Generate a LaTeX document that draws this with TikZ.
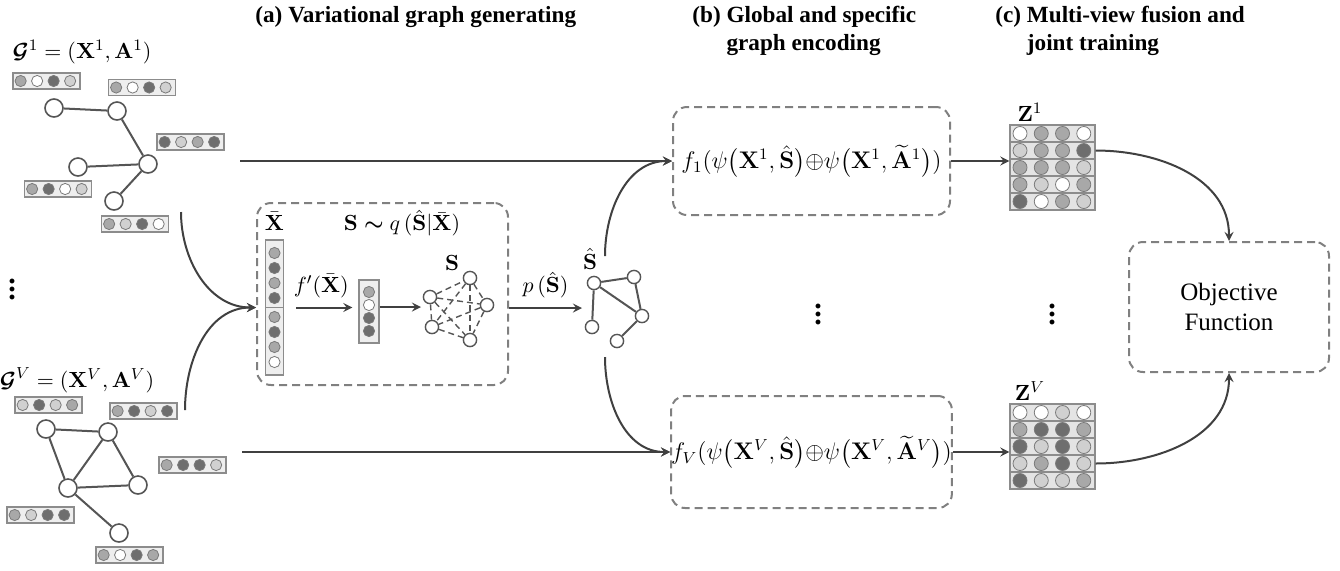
\documentclass[tikz,border=0pt]{standalone}
\usepackage[no-math]{fontspec}
\setmainfont{Liberation Serif}
\usepackage{amsmath,bm}
\usetikzlibrary{shapes,arrows,positioning}

\definecolor{edgegray}{HTML}{555555}
\definecolor{arrowgray}{HTML}{404040}
\definecolor{boxgray}{HTML}{808080}
\definecolor{bargray}{HTML}{8C8C8C}
\definecolor{barfill}{HTML}{EEEEEE}
\definecolor{rowfill}{HTML}{E4E4E4}
\definecolor{dotgray}{HTML}{7A7A7A}
\definecolor{dk}{HTML}{6E6E6E}
\definecolor{md}{HTML}{A8A8A8}
\definecolor{lt}{HTML}{D0D0D0}
\definecolor{wt}{HTML}{FFFFFF}

% feature bar: name, centre, four fills
\newcommand{\featbar}[3]{%
  \node[bar] (#1) at (#2) {};
  \foreach \col [count=\i] in {#3}
    \path (#1.west) ++(\i*16.5-8.25,0) node[dot,fill=\col] {};
}
% one row of an embedding matrix
\newcommand{\zrow}[3]{%
  \node[zbar] (#1) at (#2) {};
  \foreach \col [count=\i] in {#3}
    \path (#1.west) ++(\i*21.25-10.625,0) node[dot,minimum size=7pt,fill=\col] {};
}

\begin{document}
\begin{tikzpicture}[x=0.5pt,y=-0.5pt,>=stealth,font=\fontsize{11}{13}\selectfont]

    % Define node styles
    \tikzstyle{gnode} = [draw=edgegray, fill=white, circle, minimum size=9pt, inner sep=0pt, line width=0.8pt]
    \tikzstyle{snode} = [gnode, minimum size=6.6pt, line width=0.7pt]
    \tikzstyle{link} = [draw=edgegray, line width=1pt]
    \tikzstyle{dlink} = [draw=edgegray, line width=0.7pt, dash pattern=on 3pt off 2pt]
    \tikzstyle{bar} = [draw=bargray, fill=barfill, rectangle, minimum width=33.5pt, minimum height=8pt, inner sep=0pt, line width=0.6pt]
    \tikzstyle{zbar} = [bar, fill=rowfill, minimum width=42.5pt, minimum height=8.5pt]
    \tikzstyle{dot} = [draw=dotgray, circle, minimum size=5.6pt, inner sep=0pt, line width=0.4pt]
    \tikzstyle{dbox} = [draw=boxgray, rectangle, rounded corners=7pt, line width=1pt, dash pattern=on 4pt off 2.5pt, inner sep=0pt]
    \tikzstyle{flow} = [->, draw=arrowgray, line width=1pt]
    \tikzstyle{title} = [font=\fontsize{11.6}{14}\selectfont\bfseries, align=left, anchor=north west, inner sep=0pt]

    \useasboundingbox (0,0) rectangle (1340,570);

    % Titles
    \node[title] (ta) at (255,6) {(a) Variational graph generating};
    \node[title] (tb) at (692,6) {(b) Global and specific\\\hphantom{(b) }graph encoding};
    \node[title] (tc) at (995,6) {(c) Multi-view fusion and\\\hphantom{(c) }joint training};

    % First view
    \node (g1) at (82,52) {$\bm{\mathcal{G}}^1 = (\mathbf{X}^1, \mathbf{A}^1)$};
    \node[gnode] (a1) at (54,108) {};
    \node[gnode] (a2) at (117,111) {};
    \node[gnode] (a3) at (148,164) {};
    \node[gnode] (a4) at (78,167) {};
    \node[gnode] (a5) at (114,201) {};
    \draw[link] (a1) -- (a2) -- (a3) -- (a4);
    \draw[link] (a3) -- (a5);
    \featbar{fa1}{46.5,81}{md,wt,dk,lt}
    \featbar{fa2}{142,87.5}{md,wt,dk,lt}
    \featbar{fa3}{190.5,142}{dk,lt,md,dk}
    \featbar{fa4}{58,189}{md,dk,wt,lt}
    \featbar{fa5}{135,224}{md,lt,dk,wt}

    \node (dl) at (12,283) {\fontsize{15}{15}\selectfont$\bm{\vdots}$};

    % Last view
    \node (gV) at (77,380) {$\bm{\mathcal{G}}^V = (\mathbf{X}^V, \mathbf{A}^V)$};
    \node[gnode] (b1) at (46,429) {};
    \node[gnode] (b2) at (108,432) {};
    \node[gnode] (b3) at (68,488) {};
    \node[gnode] (b4) at (138,485) {};
    \node[gnode] (b5) at (119,533) {};
    \draw[link] (b1) -- (b2) -- (b3) -- (b1);
    \draw[link] (b2) -- (b4) -- (b3) -- (b5);
    \featbar{fb1}{48.5,405}{lt,dk,lt,md}
    \featbar{fb2}{143.5,411}{md,dk,lt,dk}
    \featbar{fb3}{192.5,465}{md,dk,dk,lt}
    \featbar{fb4}{40.5,515}{md,lt,dk,dk}
    \featbar{fb5}{129.5,555}{md,wt,dk,md}

    % Variational graph generating
    \node[dbox, minimum width=125.5pt, minimum height=91pt] (vg) at (382.5,294) {};
    \node[bar, minimum width=9pt, minimum height=67.5pt] (xbar) at (274.5,307.5) {};
    \draw[bargray, line width=0.6pt] (xbar.west) -- (xbar.east);
    \foreach \y/\col in {253/md,268/dk,283/md,298/dk,317/md,332/dk,347/md,362/wt}
        \node[dot, fill=\col] at (274.5,\y) {};
    \node[above=1pt of xbar] (xlab) {$\bar{\mathbf{X}}$};
    \node[bar, minimum width=10pt, minimum height=31.5pt] (hcol) at (369,311.5) {};
    \foreach \y/\col in {292/md,305/wt,318/dk,331/dk}
        \node[dot, fill=\col] at (369,\y) {};
    \node[snode] (s1) at (430,297) {};
    \node[snode] (s2) at (470,278) {};
    \node[snode] (s3) at (487,305) {};
    \node[snode] (s4) at (432,327) {};
    \node[snode] (s5) at (470,340) {};
    \foreach \a/\b in {s1/s2,s1/s3,s1/s4,s1/s5,s2/s3,s2/s4,s2/s5,s3/s4,s3/s5,s4/s5}
        \draw[dlink] (\a) -- (\b);
    \node (slab) at (452,263) {$\mathbf{S}$};
    \node (qlab) at (402,223) {$\mathbf{S}\bm{\sim} q\,(\hat{\mathbf{S}}|\bar{\mathbf{X}})$};
    \coordinate (sin) at (421,307);
    \draw[flow, shorten <=6pt, shorten >=3pt] (xbar.east) -- (xbar.east -| hcol.west) node[midway, above=1pt] {$f'(\bar{\mathbf{X}})$};
    \draw[flow] (hcol.east |- sin) -- (sin);

    % Sampled graph
    \coordinate (hin) at (582,308);
    \draw[flow] (vg.east |- hin) -- (hin) node[midway, above=1pt] {$p\,(\hat{\mathbf{S}})$};
    \node[snode] (h1) at (594,283) {};
    \node[snode] (h2) at (634,277) {};
    \node[snode] (h3) at (642,316) {};
    \node[snode] (h4) at (592,327) {};
    \node[snode] (h5) at (617,341) {};
    \draw[link] (h4) -- (h1) -- (h2) -- (h3) -- (h1);
    \draw[link] (h3) -- (h5);
    \node (hlab) at (590,259) {$\hat{\mathbf{S}}$};

    % Encoders
    \node[dbox, minimum width=138.5pt, minimum height=54pt, font=\fontsize{12}{14}\selectfont] (f1) at (811.5,161)
        {$f_1(\psi\big(\mathbf{X}^1,\hat{\mathbf{S}}\big){\oplus}\psi\big(\mathbf{X}^1,\widetilde{\mathbf{A}}^1\big))$};
    \node[dbox, minimum width=138.5pt, minimum height=56pt, font=\fontsize{12}{14}\selectfont] (fV) at (811.5,452)
        {$f_V(\psi\big(\mathbf{X}^V,\hat{\mathbf{S}}\big){\oplus}\psi\big(\mathbf{X}^V,\widetilde{\mathbf{A}}^V\big))$};
    \node (dm) at (818,308) {\fontsize{15}{15}\selectfont$\bm{\vdots}$};

    % Embeddings
    \node (zl1) at (1030,112) {$\mathbf{Z}^1$};
    \zrow{z11}{1052.5,133.5}{wt,md,md,wt}
    \zrow{z12}{1052.5,150.5}{lt,md,md,dk}
    \zrow{z13}{1052.5,167.5}{md,md,md,lt}
    \zrow{z14}{1052.5,184.5}{md,lt,wt,md}
    \zrow{z15}{1052.5,201.5}{dk,wt,md,lt}
    \node (zlV) at (1030,391) {$\mathbf{Z}^V$};
    \zrow{zV1}{1052.5,412.5}{wt,wt,lt,wt}
    \zrow{zV2}{1052.5,429.5}{md,dk,dk,md}
    \zrow{zV3}{1052.5,446.5}{dk,lt,dk,lt}
    \zrow{zV4}{1052.5,463.5}{lt,md,dk,lt}
    \zrow{zV5}{1052.5,480.5}{dk,lt,lt,md}
    \node (dr) at (1052,308) {\fontsize{15}{15}\selectfont$\bm{\vdots}$};

    % Objective
    \node[dbox, minimum width=100pt, minimum height=65pt, align=center, font=\fontsize{12.5}{15}\selectfont] (obj) at (1229,307) {Objective\\Function};

    % Draw arrows
    \coordinate (c1) at (181,212);
    \coordinate (cV) at (185,410);
    \draw[flow] (c1) to[out=-90,in=180] (vg.west |- xbar);
    \draw[flow] (cV) to[out=90,in=180] (vg.west |- xbar);
    \coordinate (r1) at (240,161);
    \coordinate (rV) at (242,452);
    \draw[flow] (r1) -- (f1.west);
    \draw[flow] (rV) -- (fV.west);
    \coordinate (hup) at (605,256);
    \coordinate (hdn) at (605,357);
    \draw[flow] (hup) to[out=90,in=180] (f1.west);
    \draw[flow] (hdn) to[out=-90,in=180] (fV.west);
    \draw[flow] (f1.east) -- (f1.east -| z12.west);
    \draw[flow] (fV.east) -- (fV.east -| zV4.west);
    \draw[flow] (z12.east) to[out=0,in=90] (obj.north);
    \draw[flow] (zV4.east) to[out=0,in=-90] (obj.south);

\end{tikzpicture}
\end{document}
